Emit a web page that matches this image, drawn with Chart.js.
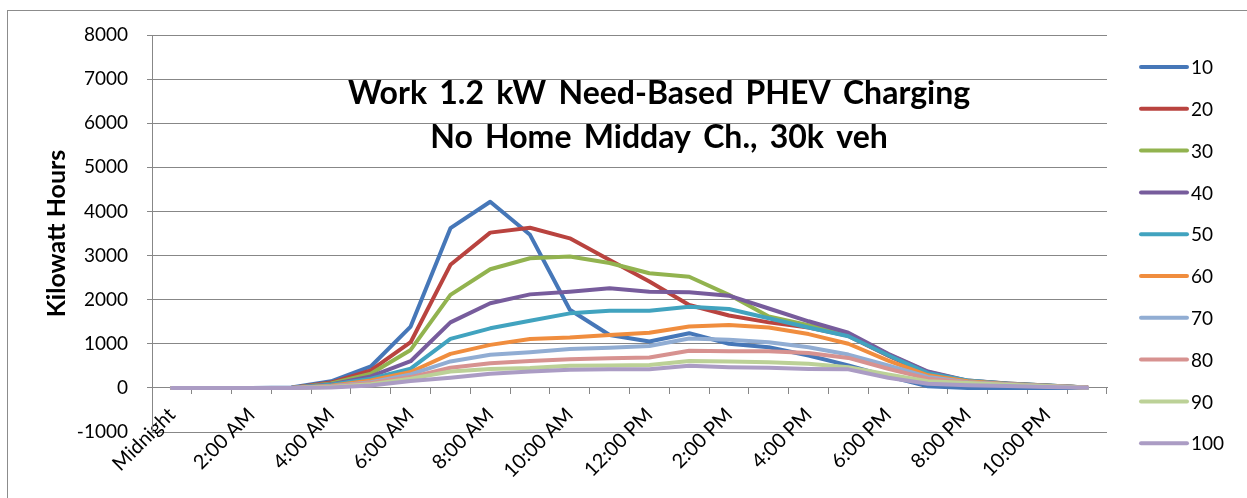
<!DOCTYPE html>
<html>
<head>
<meta charset="utf-8">
<title>Work 1.2 kW Need-Based PHEV Charging</title>
<script src="https://cdn.jsdelivr.net/npm/chart.js@4.4.1/dist/chart.umd.min.js"></script>
<style>
    html, body { margin: 0; padding: 0; background: #fff; overflow: hidden; }
    #frame { position: absolute; left: 7px; top: 10px; width: 1400px; height: 700px; border: 1px solid #8c8c8c; }
    #wrap { position: absolute; left: 0; top: 0; width: 1247px; height: 498px; }
</style>
</head>
<body>
<div id="frame"></div>
<div id="wrap"><canvas id="chart" width="1247" height="498"></canvas></div>
<script>
/* ============================================
   Work charging load by hour - line chart
   ============================================ */

// Hour of day (category axis)
const hours = [
    'Midnight', '1:00 AM', '2:00 AM', '3:00 AM', '4:00 AM', '5:00 AM',
    '6:00 AM', '7:00 AM', '8:00 AM', '9:00 AM', '10:00 AM', '11:00 AM',
    '12:00 PM', '1:00 PM', '2:00 PM', '3:00 PM', '4:00 PM', '5:00 PM',
    '6:00 PM', '7:00 PM', '8:00 PM', '9:00 PM', '10:00 PM', '11:00 PM'
];

// Series names as shown in the legend
const seriesNames = ['10', '20', '30', '40', '50', '60', '70', '80', '90', '100'];

// Kilowatt hours per hour
const kwh10  = [0, 0, 0, 10, 150, 485, 1390, 3620, 4220, 3470, 1770, 1200, 1050, 1240, 1000, 920, 735, 510, 260, 35, 0, 0, 0, 0];
const kwh20  = [0, 0, 0, 0, 120, 395, 1035, 2790, 3520, 3630, 3390, 2900, 2410, 1880, 1640, 1485, 1370, 1180, 730, 320, 150, 90, 50, 10];
const kwh30  = [0, 0, 0, 0, 100, 320, 860, 2110, 2690, 2940, 2980, 2830, 2600, 2520, 2110, 1620, 1420, 1220, 760, 360, 160, 100, 55, 10];
const kwh40  = [0, 0, 0, 0, 80, 260, 605, 1485, 1920, 2120, 2180, 2260, 2180, 2170, 2090, 1800, 1510, 1250, 775, 370, 165, 100, 55, 10];
const kwh50  = [0, 0, 0, 0, 70, 210, 435, 1110, 1350, 1520, 1690, 1750, 1750, 1840, 1790, 1580, 1370, 1170, 740, 335, 170, 95, 55, 10];
const kwh60  = [0, 0, 0, 0, 50, 170, 360, 770, 975, 1110, 1140, 1200, 1250, 1390, 1425, 1370, 1220, 1000, 620, 285, 150, 90, 50, 10];
const kwh70  = [0, 0, 0, 0, 40, 130, 305, 600, 750, 810, 880, 910, 950, 1120, 1090, 1035, 920, 755, 510, 250, 130, 80, 45, 10];
const kwh80  = [0, 0, 0, 0, 30, 110, 245, 455, 560, 610, 650, 670, 690, 840, 830, 830, 790, 680, 435, 210, 120, 75, 40, 10];
const kwh90  = [0, 0, 0, 0, 20, 85, 210, 370, 430, 450, 500, 510, 520, 610, 600, 580, 545, 470, 305, 150, 110, 70, 35, 5];
const kwh100 = [0, 0, 0, 0, 10, 55, 155, 230, 320, 370, 410, 420, 420, 500, 470, 455, 430, 420, 230, 95, 60, 40, 20, 5];

const seriesValues = [kwh10, kwh20, kwh30, kwh40, kwh50, kwh60, kwh70, kwh80, kwh90, kwh100];

// Value axis range
const yMin = -1000;
const yMax = 8000;
const yStep = 1000;

const titleLines = ['Work 1.2 kW Need-Based PHEV Charging', 'No Home Midday Ch., 30k veh'];
const yTitle = 'Kilowatt Hours';

// Excel 2007 default palette
const lineColors = [
    '#4677b8', '#b9433f', '#92b34f', '#775c9c', '#41a3bf',
    '#f08d3e', '#91add3', '#d79290', '#bcd197', '#ab9cc4'
];

const FONT = 'Lato, "Liberation Sans", sans-serif';
const GRID = '#878787';

/**
 * Title and legend, drawn on top of the chart
 */
const overlayText = {
    id: 'overlayText',
    afterDraw(chart) {
        const ctx = chart.ctx;
        ctx.save();
        ctx.fillStyle = '#000';
        ctx.textBaseline = 'middle';

        // Title inside the plot area
        ctx.font = 'bold 32px ' + FONT;
        ctx.textAlign = 'center';
        if ('wordSpacing' in ctx) ctx.wordSpacing = '4.5px';
        ctx.fillText(titleLines[0], 659, 94);
        ctx.fillText(titleLines[1], 659, 138);
        if ('wordSpacing' in ctx) ctx.wordSpacing = '0px';

        // Legend column on the right
        ctx.textAlign = 'left';
        ctx.font = '19px ' + FONT;
        ctx.lineCap = 'round';
        chart.data.datasets.forEach((ds, i) => {
            const y = 67 + i * 41.8;
            ctx.strokeStyle = ds.borderColor;
            ctx.lineWidth = 4;
            ctx.beginPath();
            ctx.moveTo(1141, y);
            ctx.lineTo(1187, y);
            ctx.stroke();
            ctx.fillText(ds.label, 1191, y + 1);
        });
        ctx.restore();
    }
};

const datasets = seriesNames.map((name, i) => ({
    label: name,
    data: seriesValues[i],
    borderColor: lineColors[i],
    backgroundColor: lineColors[i],
    borderWidth: 4,
    borderCapStyle: 'round',
    borderJoinStyle: 'round',
    pointRadius: 0,
    tension: 0,
    fill: false,
    order: seriesNames.length - i   // later series on top, like Excel
}));

new Chart(document.getElementById('chart').getContext('2d'), {
    type: 'line',
    data: { labels: hours, datasets: datasets },
    options: {
        responsive: false,
        animation: false,
        layout: { padding: { top: 35, right: 140, bottom: 66, left: 0 } },
        plugins: {
            legend: { display: false },
            tooltip: { enabled: false }
        },
        scales: {
            // category labels hang from the bottom of the plot
            x: {
                type: 'category',
                position: { y: yMin },
                offset: true,
                grid: { display: false, drawTicks: false, tickLength: 0 },
                border: { display: false },
                ticks: {
                    autoSkip: false,
                    minRotation: 45,
                    maxRotation: 45,
                    padding: -29,
                    color: '#000',
                    font: { family: FONT, size: 20 },
                    callback: (v, i) => (i % 2 ? '' : hours[i])
                }
            },
            // horizontal axis line with tick marks, crossing at zero
            x0: {
                type: 'category',
                axis: 'x',
                labels: hours,
                position: { y: 0 },
                offset: true,
                grid: {
                    display: true,
                    offset: true,
                    drawOnChartArea: false,
                    drawTicks: true,
                    tickLength: 6,
                    color: GRID
                },
                border: { display: true, color: GRID, width: 1 },
                ticks: { display: false }
            },
            y: {
                min: yMin,
                max: yMax,
                ticks: {
                    stepSize: yStep,
                    padding: 19,
                    color: '#000',
                    font: { family: FONT, size: 19 },
                    callback: (v) => String(v)
                },
                grid: { color: GRID, tickLength: 5 },
                border: { color: GRID },
                title: {
                    display: true,
                    text: yTitle,
                    color: '#000',
                    font: { family: FONT, size: 25, weight: 'bold' },
                    padding: { top: 42, bottom: 0 }
                },
                afterFit: (scale) => { scale.width = 152; }
            }
        }
    },
    plugins: [overlayText]
});
</script>
</body>
</html>
